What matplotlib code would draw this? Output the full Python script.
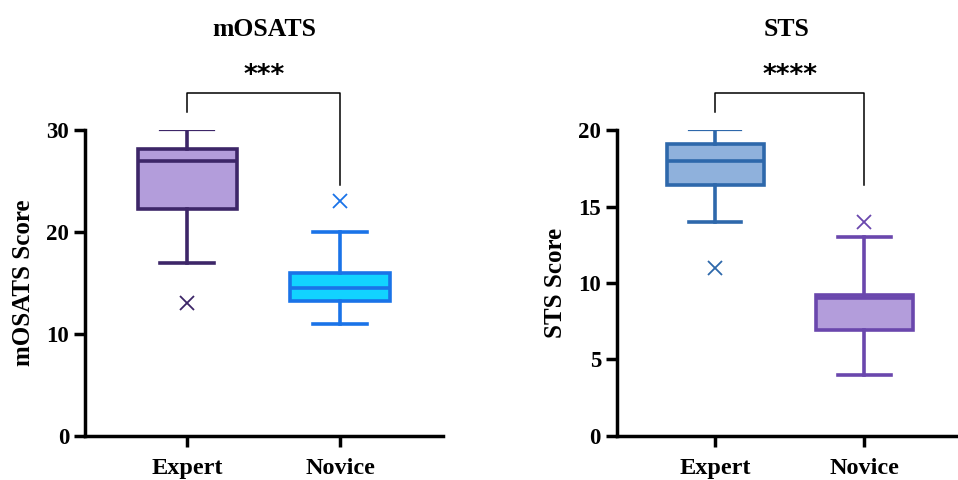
import matplotlib.pyplot as plt

plt.rcParams['font.family'] = ['Liberation Serif', 'DejaVu Serif']
plt.rcParams['font.weight'] = 'bold'

groups = ['Expert', 'Novice']

# mOSATS summary stats (whisker low, q1, median, q3, whisker high, outliers)
mosats_wlo = [17, 11]
mosats_q1 = [22.3, 13.2]
mosats_med = [27, 14.5]
mosats_q3 = [28.1, 16]
mosats_whi = [30, 20]
mosats_out = [[13], [23]]

sts_wlo = [14, 4]
sts_q1 = [16.4, 6.9]
sts_med = [18, 9]
sts_q3 = [19.1, 9.2]
sts_whi = [20, 13]
sts_out = [[11], [14]]

mosats_fill = ['#b39ddb', '#12d3ff']
mosats_edge = ['#3d2668', '#1a73e8']
sts_fill = ['#8fb1dc', '#b39ddb']
sts_edge = ['#2e68ab', '#6a47ad']

fig = plt.figure(figsize=(9.58, 4.8), dpi=100)
ax1 = fig.add_axes([0.089, 0.092, 0.373, 0.637])
ax2 = fig.add_axes([0.644, 0.092, 0.355, 0.637])


def draw(ax, wlo, q1, med, q3, whi, out, fills, edges, title, ylabel, ymax, yticks,
         bracket, legs, stars, xlim):
    for i in range(len(groups)):
        s = dict(whislo=wlo[i], q1=q1[i], med=med[i], q3=q3[i],
                 whishi=whi[i], fliers=out[i], label=groups[i])
        parts = ax.bxp([s], positions=[i + 1], widths=0.65, patch_artist=True,
                       boxprops=dict(facecolor=fills[i], edgecolor=edges[i], linewidth=2.6),
                       medianprops=dict(color=edges[i], linewidth=2.6),
                       whiskerprops=dict(color=edges[i], linewidth=2.6),
                       capprops=dict(color=edges[i], linewidth=2.6),
                       flierprops=dict(marker='x', markeredgecolor=edges[i], markersize=10,
                                       markeredgewidth=1.3),
                       capwidths=0.35)
        if i == 0:
            parts['caps'][1].set_linewidth(1.6)
    ax.set_xlim(*xlim)
    ax.set_ylim(0, ymax)
    ax.set_yticks(yticks)
    ax.set_xticks([1, 2])
    ax.set_xticklabels(groups, fontsize=17.5, fontweight='bold')
    ax.tick_params(axis='y', labelsize=16.5, width=2.5, length=8)
    ax.tick_params(axis='x', width=2.5, length=8, pad=8)
    for lab in ax.get_yticklabels():
        lab.set_fontweight('bold')
    for side in ['top', 'right']:
        ax.spines[side].set_visible(False)
    for side in ['left', 'bottom']:
        ax.spines[side].set_linewidth(2.5)
    ax.set_ylabel(ylabel, fontsize=18, fontweight='bold', labelpad=8)
    ax.set_title(title, fontsize=18.5, fontweight='bold', pad=68)
    # significance bracket
    ax.plot([1, 1, 2, 2], [legs[0], bracket, bracket, legs[1]], color='black',
            linewidth=1.1, clip_on=False)
    ax.text(1.5, bracket + (ymax * 0.015), stars, ha='center', va='bottom',
            fontsize=19, fontweight='bold', family='DejaVu Sans')


draw(ax1, mosats_wlo, mosats_q1, mosats_med, mosats_q3, mosats_whi, mosats_out,
     mosats_fill, mosats_edge, 'mOSATS', 'mOSATS Score', 30, [0, 10, 20, 30],
     33.6, [31.8, 24.6], '***', (0.333, 2.67))
draw(ax2, sts_wlo, sts_q1, sts_med, sts_q3, sts_whi, sts_out,
     sts_fill, sts_edge, 'STS', 'STS Score', 20, [0, 5, 10, 15, 20],
     22.4, [21.2, 16.4], '****', (0.342, 2.62))

fig.savefig('out.png', dpi=100)
